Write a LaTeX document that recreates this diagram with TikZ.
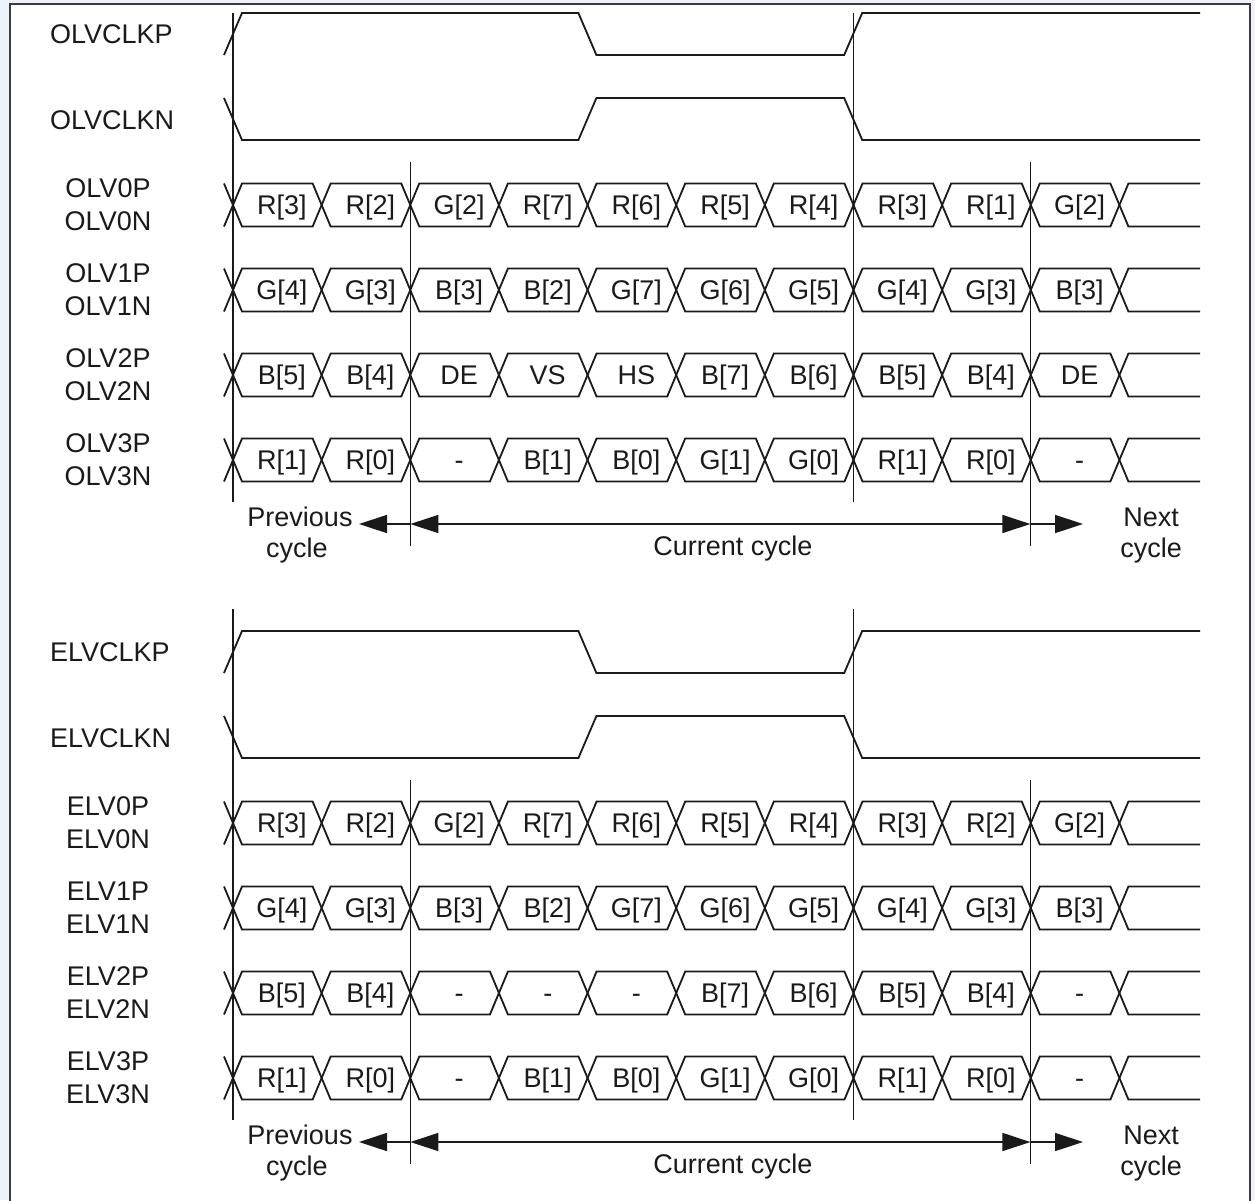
\documentclass[tikz,border=0pt]{standalone}
\usepackage{fontspec}
\setmainfont{Liberation Sans}
\usetikzlibrary{arrows.meta}
\definecolor{bgout}{RGB}{238,242,250}
\definecolor{ink}{RGB}{26,26,26}
\newcommand\busrow[3]{%
  \pgfmathsetmacro\yc{#2}%
  \pgfmathsetmacro\yt{#2-21.5}%
  \pgfmathsetmacro\yb{#2+21.5}%
  \draw[sig] (224,\yt) -- (233,\yc) -- (224,\yb);
  \foreach \lab [count=\i from 0] in {#3} {
    \pgfmathsetmacro\xa{233+88.64*\i}
    \pgfmathsetmacro\xb{233+88.64*(\i+1)}
    \draw[sig] (\xa,\yc) -- (\xa+9,\yt) -- (\xb-9,\yt) -- (\xb,\yc) -- (\xb-9,\yb) -- (\xa+9,\yb) -- cycle;
    \node[cell] (#1c\i) at ({(\xa+\xb)/2+4.5},\yc+9.5) {\lab};
  }
  \draw[sig] (1200,\yt) -- (1128.4,\yt) -- (1119.4,\yc) -- (1128.4,\yb) -- (1200,\yb);
}
\begin{document}
\begin{tikzpicture}[x=1pt,y=-1pt,
  sig/.style={line width=1.8pt, draw=ink, line join=miter},
  vline/.style={line width=1.6pt, draw=ink},
  cell/.style={anchor=base, inner sep=0pt, font=\fontsize{27}{29}\selectfont, text=ink},
  lab/.style={inner sep=0pt, font=\fontsize{27}{29}\selectfont, text=ink},
  arr/.style={line width=1.5pt, draw=ink, -{Triangle[length=28pt,width=18pt]}},
  arrb/.style={line width=1.5pt, draw=ink, {Triangle[length=28pt,width=18pt]}-{Triangle[length=28pt,width=18pt]}},
  frame/.style={line width=1.5pt, draw=ink!85}]
\useasboundingbox (0,0) rectangle (1255,1200);
\fill[bgout] (0,0) rectangle (1255,1200);
\draw[frame, fill=white] (10,4) rectangle (1250,1215);

% ---------------- upper block (OLV) ----------------
\begin{scope}
\node[lab, anchor=base west] (olvclkp) at (50,43) {OLVCLKP};
\node[lab, anchor=base west] (olvclkn) at (50,129) {OLVCLKN};
\draw[sig] (224,55) -- (242,13) -- (578.4,13) -- (596.4,55) -- (844.2,55) -- (862.2,13) -- (1200,13);
\draw[sig] (224,98) -- (242,140) -- (578.4,140) -- (596.4,98) -- (844.2,98) -- (862.2,140) -- (1200,140);
\node[lab, anchor=base] (olv0p) at (108,197) {OLV0P};
\node[lab, anchor=base] (olv0n) at (108,230) {OLV0N};
\node[lab, anchor=base] (olv1p) at (108,282) {OLV1P};
\node[lab, anchor=base] (olv1n) at (108,315) {OLV1N};
\node[lab, anchor=base] (olv2p) at (108,367) {OLV2P};
\node[lab, anchor=base] (olv2n) at (108,400) {OLV2N};
\node[lab, anchor=base] (olv3p) at (108,452) {OLV3P};
\node[lab, anchor=base] (olv3n) at (108,485) {OLV3N};
\busrow{oa}{205}{{R[3]},{R[2]},{G[2]},{R[7]},{R[6]},{R[5]},{R[4]},{R[3]},{R[1]},{G[2]}}
\busrow{ob}{290}{{G[4]},{G[3]},{B[3]},{B[2]},{G[7]},{G[6]},{G[5]},{G[4]},{G[3]},{B[3]}}
\busrow{oc}{375}{{B[5]},{B[4]},DE,VS,HS,{B[7]},{B[6]},{B[5]},{B[4]},DE}
\busrow{od}{460}{{R[1]},{R[0]},-,{B[1]},{B[0]},{G[1]},{G[0]},{R[1]},{R[0]},-}
\draw[vline] (233,13) -- (233,502);
\draw[vline] (410.3,162) -- (410.3,546);
\draw[vline] (853.5,13) -- (853.5,502);
\draw[vline] (1030.4,162) -- (1030.4,546);
\coordinate (ocs) at (410.3,524);
\coordinate (oce) at (1030.4,524);
\coordinate (opt) at (359,524);
\coordinate (ont) at (1083,524);
\draw[arr] (ocs) -- (opt);
\draw[arrb] (ocs) -- (oce);
\draw[arr] (oce) -- (ont);
\node[lab, anchor=base] (oprev1) at (300,526) {Previous};
\node[lab, anchor=base] (oprev2) at (297,557) {cycle};
\node[lab, anchor=base] (ocur) at (733,555) {Current cycle};
\node[lab, anchor=base] (onext1) at (1151,526) {Next};
\node[lab, anchor=base] (onext2) at (1151,557) {cycle};
\end{scope}

% ---------------- lower block (ELV) ----------------
\begin{scope}[shift={(0,618)}]
\node[lab, anchor=base west] (elvclkp) at (50,43) {ELVCLKP};
\node[lab, anchor=base west] (elvclkn) at (50,129) {ELVCLKN};
\draw[sig] (224,55) -- (242,13) -- (578.4,13) -- (596.4,55) -- (844.2,55) -- (862.2,13) -- (1200,13);
\draw[sig] (224,98) -- (242,140) -- (578.4,140) -- (596.4,98) -- (844.2,98) -- (862.2,140) -- (1200,140);
\node[lab, anchor=base] (elv0p) at (108,197) {ELV0P};
\node[lab, anchor=base] (elv0n) at (108,230) {ELV0N};
\node[lab, anchor=base] (elv1p) at (108,282) {ELV1P};
\node[lab, anchor=base] (elv1n) at (108,315) {ELV1N};
\node[lab, anchor=base] (elv2p) at (108,367) {ELV2P};
\node[lab, anchor=base] (elv2n) at (108,400) {ELV2N};
\node[lab, anchor=base] (elv3p) at (108,452) {ELV3P};
\node[lab, anchor=base] (elv3n) at (108,485) {ELV3N};
\busrow{ea}{205}{{R[3]},{R[2]},{G[2]},{R[7]},{R[6]},{R[5]},{R[4]},{R[3]},{R[2]},{G[2]}}
\busrow{eb}{290}{{G[4]},{G[3]},{B[3]},{B[2]},{G[7]},{G[6]},{G[5]},{G[4]},{G[3]},{B[3]}}
\busrow{ec}{375}{{B[5]},{B[4]},-,-,-,{B[7]},{B[6]},{B[5]},{B[4]},-}
\busrow{ed}{460}{{R[1]},{R[0]},-,{B[1]},{B[0]},{G[1]},{G[0]},{R[1]},{R[0]},-}
\draw[vline] (233,-9) -- (233,502);
\draw[vline] (410.3,162) -- (410.3,546);
\draw[vline] (853.5,-9) -- (853.5,502);
\draw[vline] (1030.4,162) -- (1030.4,546);
\coordinate (ecs) at (410.3,524);
\coordinate (ece) at (1030.4,524);
\coordinate (ept) at (359,524);
\coordinate (ent) at (1083,524);
\draw[arr] (ecs) -- (ept);
\draw[arrb] (ecs) -- (ece);
\draw[arr] (ece) -- (ent);
\node[lab, anchor=base] (eprev1) at (300,526) {Previous};
\node[lab, anchor=base] (eprev2) at (297,557) {cycle};
\node[lab, anchor=base] (ecur) at (733,555) {Current cycle};
\node[lab, anchor=base] (enext1) at (1151,526) {Next};
\node[lab, anchor=base] (enext2) at (1151,557) {cycle};
\end{scope}
\end{tikzpicture}
\end{document}
